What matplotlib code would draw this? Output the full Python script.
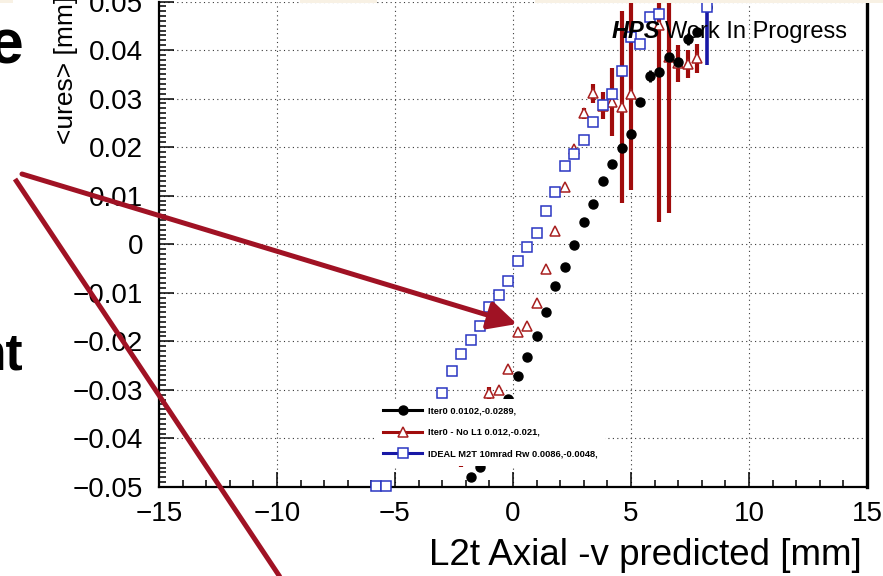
import matplotlib
matplotlib.use("Agg")
import matplotlib.pyplot as plt
from matplotlib.lines import Line2D
from matplotlib.patches import FancyArrowPatch, ArrowStyle, Rectangle
from matplotlib.ticker import MultipleLocator, FuncFormatter

plt.rcParams['font.family'] = ['Liberation Sans', 'DejaVu Sans']

# ---- data: mean u-residual vs predicted v position ----
x_iter0 = [-1.8, -1.4, -1.0, -0.6, -0.2, 0.2, 0.6, 1.0, 1.4, 1.8, 2.2, 2.6, 3.0,
           3.4, 3.8, 4.2, 4.6, 5.0, 5.4, 5.8, 6.2, 6.6, 7.0, 7.4, 7.8, 8.2]
y_iter0 = [-0.0480, -0.0458, -0.0405, -0.0360, -0.0318, -0.0272, -0.0233, -0.0190,
           -0.0140, -0.0087, -0.0047, -0.0002, 0.0045, 0.0082, 0.0131, 0.0165,
           0.0198, 0.0227, 0.0293, 0.0346, 0.0355, 0.0386, 0.0375, 0.0423, 0.0437, 0.0489]
e_iter0 = [0.0005, 0.0005, 0.0005, 0.0005, 0.0005, 0.0005, 0.0005, 0.0005,
           0.0005, 0.0005, 0.0005, 0.0005, 0.0005, 0.0005, 0.0005, 0.0005,
           0.0005, 0.0005, 0.0008, 0.0012, 0.0006, 0.0006, 0.0006, 0.0012, 0.0008, 0.0008]

x_nol1 = [-2.2, -1.8, -1.4, -1.0, -0.6, -0.2, 0.2, 0.6, 1.0, 1.4, 1.8, 2.2, 2.6,
          3.0, 3.4, 3.8, 4.2, 4.6, 5.0, 6.2, 6.6, 7.0, 7.4, 7.8]
y_nol1 = [-0.0430, -0.0395, -0.0350, -0.0307, -0.0301, -0.0256, -0.0181, -0.0169,
          -0.0122, -0.0052, 0.0027, 0.0118, 0.0196, 0.0270, 0.0311, 0.0285,
          0.0293, 0.0282, 0.0309, 0.0452, 0.0386, 0.0373, 0.0371, 0.0383]
e_nol1 = [0.0028, 0.0010, 0.0010, 0.0012, 0.0006, 0.0006, 0.0006, 0.0006,
          0.0006, 0.0006, 0.0006, 0.0006, 0.0006, 0.0011, 0.0020, 0.0028,
          0.0070, 0.0198, 0.0198, 0.0406, 0.0322, 0.0038, 0.0029, 0.0030]

x_ideal = [-5.8, -5.4, -5.0, -4.6, -4.2, -3.8, -3.4, -3.0, -2.6, -2.2, -1.8, -1.4,
           -1.0, -0.6, -0.2, 0.2, 0.6, 1.0, 1.4, 1.8, 2.2, 2.6, 3.0, 3.4, 3.8,
           4.2, 4.6, 5.0, 5.4, 5.8, 6.2, 8.2]
y_ideal = [-0.0497, -0.0497, -0.0442, -0.0420, -0.0390, -0.0360, -0.0335, -0.0307,
           -0.0262, -0.0227, -0.0198, -0.0169, -0.0130, -0.0105, -0.0076, -0.0035,
           -0.0006, 0.0023, 0.0068, 0.0108, 0.0161, 0.0186, 0.0214, 0.0252, 0.0287,
           0.0309, 0.0357, 0.0426, 0.0412, 0.0468, 0.0474, 0.0489]
e_ideal = [0.0004] * 27 + [0.0008, 0.0004, 0.0006, 0.0004, 0.0120]

labels = ['Iter0 0.0102,-0.0289,',
          'Iter0 - No L1 0.012,-0.021,',
          'IDEAL M2T 10mrad Rw 0.0086,-0.0048,']

BLACK = '#000000'
RED_M = '#a81f1f'
RED_E = '#a00c0c'
BLUE_M = '#2a36c2'
BLUE_E = '#1818a6'
ARROW = '#a01224'

W, H = 883, 576
fig = plt.figure(figsize=(W / 100, H / 100), dpi=100)
fig.patch.set_facecolor('white')

def px(x, y):
    return (x / W, 1 - y / H)

ax = fig.add_axes([159 / W, 1 - 487 / H, (867 - 159) / W, (487 - 1.5) / H])
ax.set_xlim(-15, 15)
ax.set_ylim(-0.05, 0.05)

# open markers get a white face so the error bars stop at the marker outline
ax.errorbar(x_nol1, y_nol1, yerr=e_nol1, fmt='^', ms=7.2, mfc='white', mec=RED_M,
            mew=1.1, ecolor=RED_E, elinewidth=3.0, capsize=0, zorder=2)
ax.errorbar(x_iter0, y_iter0, yerr=e_iter0, fmt='o', ms=6.5, color=BLACK,
            ecolor=BLACK, elinewidth=2.0, capsize=0, zorder=3)
ax.errorbar(x_ideal, y_ideal, yerr=e_ideal, fmt='s', ms=7.5, mfc='white', mec=BLUE_M,
            mew=1.1, ecolor=BLUE_E, elinewidth=2.6, capsize=0, zorder=4, clip_on=False)

# axes styling
ax.xaxis.set_major_locator(MultipleLocator(5))
ax.xaxis.set_minor_locator(MultipleLocator(1))
ax.yaxis.set_major_locator(MultipleLocator(0.01))
ax.yaxis.set_minor_locator(MultipleLocator(0.001))

def xfmt(v, pos):
    s = f'{v:.0f}'
    return '0' if s in ('0', '-0') else s.replace('-', '\u2212')

def yfmt(v, pos):
    if abs(v) < 1e-9:
        return '0'
    return f'{v:.2f}'.replace('-', '\u2212')

ax.xaxis.set_major_formatter(FuncFormatter(xfmt))
ax.yaxis.set_major_formatter(FuncFormatter(yfmt))

ax.tick_params(which='both', direction='in', width=1.1, colors='black')
ax.tick_params(which='major', length=11, labelsize=20)
ax.tick_params(which='minor', length=5)
ax.tick_params(axis='y', which='major', pad=11.5)
ax.tick_params(axis='x', which='major', pad=10)
ax.tick_params(top=False, right=False, which='both')

for side in ('left', 'bottom'):
    ax.spines[side].set_linewidth(1.6)
ax.spines['right'].set_linewidth(2.4)
ax.spines['top'].set_visible(False)

ax.set_axisbelow(True)
ax.grid(True, which='major', linestyle=(0, (1, 3)), color='#3a3a3a', linewidth=0.8)

ax.set_xlabel('L2t Axial -v predicted [mm]', fontsize=26.5, ha='right')
ax.xaxis.set_label_coords((862 - 159) / 708, (487 - 538) / 485.5)
ax.set_ylabel('<ures> [mm]', fontsize=19, ha='right')
ax.yaxis.set_label_coords((78 - 159) / 708, (487 + 4) / 485.5)

# legend
handles = [
    Line2D([], [], color=BLACK, lw=2.2, marker='o', ms=6.5, mfc=BLACK, mec=BLACK),
    Line2D([], [], color=RED_E, lw=2.2, marker='^', ms=7.2, mfc='white', mec=RED_M, mew=1.1),
    Line2D([], [], color=BLUE_E, lw=2.2, marker='s', ms=7.5, mfc='white', mec=BLUE_M, mew=1.1),
]
leg = ax.legend(handles, labels, loc='upper left',
                bbox_to_anchor=((375.6 - 159) / 708, (487 - 399) / 485.5),
                borderaxespad=0, borderpad=0.8, handlelength=4.2, handletextpad=0.65,
                labelspacing=1.33, frameon=True, fancybox=False, framealpha=1,
                facecolor='white', edgecolor='none',
                prop=dict(family='Liberation Sans', weight='bold', size=6.7))
leg.set_zorder(10)

# label in the upper right
ax.text((612 - 159) / 708, (487 - 38) / 485.5, 'HPS', transform=ax.transAxes,
        fontsize=17, fontweight='bold', fontstyle='italic', ha='left', va='baseline', zorder=11)
ax.text((665 - 159) / 708, (487 - 38) / 485.5, 'Work In Progress', transform=ax.transAxes,
        fontsize=17, ha='left', va='baseline', zorder=11)

# slide overlay: text fragments, thin header strip and annotation arrows
fig.text(*px(23, 63), 'e', fontsize=45, fontweight='bold', ha='right', va='baseline')
fig.text(*px(23, 370), 'nt', fontsize=37, fontweight='bold', ha='right', va='baseline')

for x0, x1 in [(0, 13), (300, 377), (535, 883)]:
    fig.add_artist(Rectangle(px(x0, 2.5), (x1 - x0) / W, 2.5 / H, transform=fig.transFigure,
                             facecolor='#f8f1e4', edgecolor='none', zorder=30))

fig.add_artist(Line2D([15 / W, 282 / W], [1 - 179 / H, 1 - 580 / H], transform=fig.transFigure,
                      color=ARROW, lw=3.6, solid_capstyle='butt', zorder=20))
fig.add_artist(FancyArrowPatch(px(22, 174), px(517, 324), transform=fig.transFigure,
                               arrowstyle=ArrowStyle('-|>', head_length=17, head_width=8.5),
                               mutation_scale=1, lw=3.6, color=ARROW,
                               shrinkA=0, shrinkB=0, zorder=21))

fig.savefig('out.png', dpi=100)
